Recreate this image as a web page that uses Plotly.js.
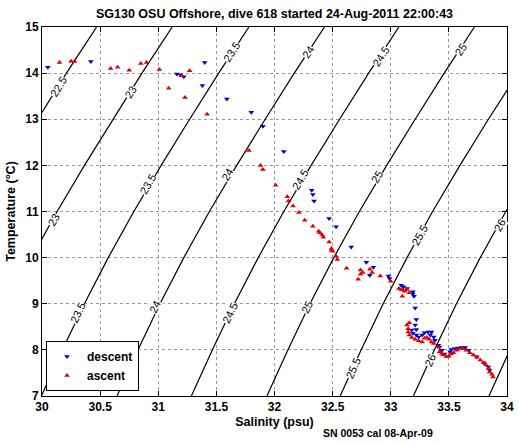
<!DOCTYPE html>
<html>
<head>
<meta charset="utf-8">
<script src="https://cdn.plot.ly/plotly-3.0.1.min.js"></script>
<style>html,body{margin:0;padding:0;background:#fff;}#chart{width:519px;height:442px;}</style>
</head>
<body>
<div id="chart"></div>
<script>
// ---- Data ----
const titleText = "SG130 OSU Offshore, dive 618 started 24-Aug-2011 22:00:43";
const xTitle = "Salinity (psu)";
const yTitle = "Temperature (°C)";
const footText = "SN 0053 cal 08-Apr-09";
const seriesNames = ["descent", "ascent"];

// descent (down triangles)
const descentS = [30.05,30.42,31.16,31.19,31.22,31.40,31.38,31.59,31.80,31.90,32.08,32.32,32.33,32.34,32.47,32.53,32.66,32.79,32.85,32.82,32.98,32.99,33.09,33.11,33.14,33.19,33.19,33.20,33.21,33.22,33.21,33.22,33.18,33.19,33.22,33.24,33.27,33.29,33.32,33.35,33.34,33.37,33.38,33.41,33.42,33.44,33.46,33.51,33.52,33.55,33.58,33.61,33.64,33.67,33.74,33.80,33.84,33.85];
const descentT = [14.13,14.25,13.98,13.96,13.92,14.23,13.73,13.44,13.15,12.85,12.30,11.46,11.37,11.23,10.85,10.67,10.23,9.90,9.79,9.62,9.60,9.55,9.40,9.37,9.33,9.26,9.21,9.16,8.91,8.66,8.54,8.44,8.43,8.36,8.32,8.28,8.32,8.37,8.39,8.39,8.32,8.28,8.21,8.10,8.06,7.99,7.91,7.96,8.01,8.03,8.04,8.05,8.05,7.99,7.85,7.72,7.63,7.56];

// ascent (up triangles)
const ascentS = [30.15,30.25,30.28,30.59,30.65,30.75,30.85,30.90,31.01,31.20,31.27,31.09,31.23,31.42,31.78,31.88,31.90,32.01,32.11,32.12,32.16,32.21,32.26,32.33,32.38,32.39,32.41,32.42,32.47,32.49,32.49,32.50,32.53,32.54,32.62,32.74,32.76,32.74,32.72,32.82,32.84,32.91,33.00,33.07,33.09,33.10,33.12,33.14,33.10,33.16,33.16,33.15,33.14,33.15,33.16,33.18,33.21,33.24,33.27,33.29,33.31,33.33,33.35,33.37,33.41,33.42,33.44,33.45,33.48,33.50,33.52,33.54,33.57,33.59,33.62,33.65,33.68,33.71,33.74,33.77,33.80,33.82,33.84,33.85,33.87,33.88];
const ascentT = [14.23,14.26,14.25,14.10,14.13,14.06,14.21,14.23,14.08,13.95,14.05,13.67,13.47,13.11,12.32,12.00,11.91,11.57,11.32,11.23,11.12,10.98,10.81,10.68,10.57,10.54,10.49,10.44,10.34,10.20,10.16,10.14,10.03,9.96,9.77,9.73,9.68,9.64,9.53,9.75,9.68,9.60,9.49,9.33,9.31,9.30,9.27,9.31,9.16,9.24,8.59,8.46,8.54,8.39,8.32,8.27,8.23,8.20,8.17,8.25,8.27,8.23,8.17,8.14,8.06,7.96,7.92,7.89,7.85,7.86,7.91,7.94,7.99,8.03,8.03,7.99,7.94,7.89,7.84,7.78,7.72,7.67,7.60,7.52,7.47,7.41];

// isopycnal (sigma-theta) lines: salinity at each temperature level
const contourT = [7,8,9,10,11,12,13,14,15];
const sigmaLevels = ["22.5","23","23.5","24","24.5","25","25.5","26","26.5"];
const s225 = [28.685,28.865,29.055,29.26,29.48,29.715,29.96,30.21,30.47];
const s230 = [29.335,29.515,29.705,29.91,30.13,30.365,30.61,30.86,31.12];
const s235 = [29.995,30.175,30.365,30.57,30.79,31.025,31.27,31.52,31.78];
const s240 = [30.645,30.825,31.015,31.22,31.44,31.675,31.92,32.17,32.43];
const s245 = [31.285,31.465,31.655,31.86,32.08,32.315,32.56,32.81,33.07];
const s250 = [31.935,32.115,32.305,32.51,32.73,32.965,33.21,33.46,33.72];
const s255 = [32.565,32.745,32.935,33.14,33.36,33.595,33.84,34.09,34.35];
const s260 = [33.195,33.375,33.565,33.77,33.99,34.225,34.47,34.72,34.98];
const s265 = [33.845,34.025,34.215,34.42,34.64,34.875,35.12,35.37,35.63];
const contourS = [s225,s230,s235,s240,s245,s250,s255,s260,s265];

// contour label positions (salinity, temperature, label)
const labelS = [30.14,30.76,30.10,31.63,30.91,30.31,32.29,31.59,30.97,32.91,32.22,31.62,33.60,32.88,32.28,33.25,32.68,33.94,33.34];
const labelT = [13.70,13.60,10.81,14.46,11.60,8.79,14.46,11.80,8.93,14.36,11.68,8.79,14.50,11.75,8.93,10.49,7.60,10.70,7.78];
const labelText = ["22.5","23","23","23.5","23.5","23.5","24","24","24","24.5","24.5","24.5","25","25","25","25.5","25.5","26","26"];

// ---- Plot ----
const FONT = "Liberation Sans, Arial, Helvetica, sans-serif";
const traces = [];
contourS.forEach((s, i) => {
  traces.push({x: s, y: contourT, type: "scatter", mode: "lines",
    line: {color: "black", width: 1.2}, showlegend: false, hoverinfo: "skip", name: sigmaLevels[i]});
});
traces.push({x: descentS, y: descentT, type: "scatter", mode: "markers", name: seriesNames[0],
  marker: {symbol: "triangle-down", size: 5, color: "rgb(0,0,210)"}});
traces.push({x: ascentS, y: ascentT, type: "scatter", mode: "markers", name: seriesNames[1],
  marker: {symbol: "triangle-up", size: 5, color: "rgb(225,0,0)"}});

// label rotation from the local slope of the matching contour (pixel space)
const W = 519, H = 442, mL = 42, mR = 12, mT = 27, mB = 46;
const pxS = (W - mL - mR) / 4, pxT = (H - mT - mB) / 8;
const annotations = labelText.map((t, k) => {
  const idx = sigmaLevels.indexOf(t);
  const s = contourS[idx];
  let j = Math.min(Math.max(Math.floor(labelT[k]) - 7, 0), contourT.length - 2);
  const dS = (s[j+1] - s[j]) * pxS, dT = (contourT[j+1] - contourT[j]) * pxT;
  const ang = -Math.atan2(dT, dS) * 180 / Math.PI;
  return {x: labelS[k], y: labelT[k], xref: "x", yref: "y", text: t, showarrow: false,
    textangle: ang, font: {family: FONT, size: 11, color: "black"}, bgcolor: "white", borderpad: 0};
});
annotations.push({x: 0.722, y: -0.1, xref: "paper", yref: "paper", text: footText, showarrow: false,
  xanchor: "center", yanchor: "middle", font: {family: FONT, size: 10.5, color: "black", weight: "bold"}});

const axisCommon = {
  ticks: "inside", ticklen: 5, tickcolor: "black", showline: true, linecolor: "black", linewidth: 1,
  mirror: "ticks", showgrid: true, gridcolor: "#999", griddash: "dot", gridwidth: 1, zeroline: false,
  tickfont: {family: FONT, size: 12, color: "black", weight: "bold"}
};

const layout = {
  width: W, height: H,
  margin: {l: mL, r: mR, t: mT, b: mB, pad: 0},
  paper_bgcolor: "white", plot_bgcolor: "white",
  font: {family: FONT, color: "black"},
  title: {text: titleText, font: {family: FONT, size: 12.5, color: "black", weight: "bold"},
    x: 0.5, xref: "paper", xanchor: "center", y: 1 - 14 / H, yref: "container", yanchor: "middle"},
  xaxis: Object.assign({}, axisCommon, {range: [30, 34], dtick: 0.5, tick0: 30,
    title: {text: xTitle, font: {family: FONT, size: 12.5, color: "black", weight: "bold"}, standoff: 3}}),
  yaxis: Object.assign({}, axisCommon, {range: [7, 15], dtick: 1, tick0: 7,
    title: {text: yTitle, font: {family: FONT, size: 12.5, color: "black", weight: "bold"}, standoff: 6}}),
  showlegend: true,
  legend: {x: 0.0086, y: 0.0136, xanchor: "left", yanchor: "bottom", bgcolor: "white",
    bordercolor: "black", borderwidth: 1, traceorder: "normal", tracegroupgap: 0,
    font: {family: FONT, size: 12, color: "black", weight: "bold"}},
  annotations: annotations
};

Plotly.newPlot("chart", traces, layout, {staticPlot: true, displayModeBar: false});
</script>
</body>
</html>
